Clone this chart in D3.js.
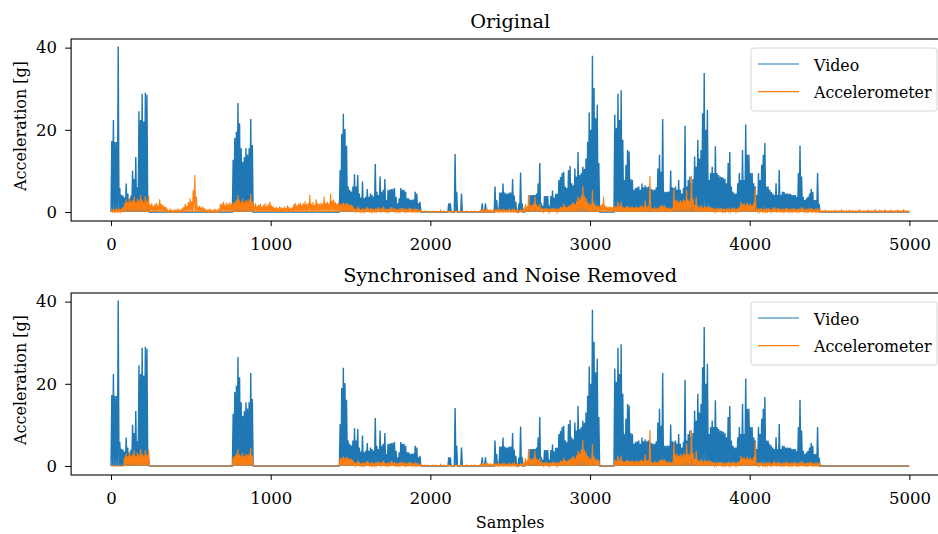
<!DOCTYPE html>
<html>
<head>
<meta charset="utf-8">
<script src="https://cdn.jsdelivr.net/npm/d3@7"></script>
<style>
body { margin: 0; background: #fff; }
text { font-family: "DejaVu Serif", serif; fill: #000; }
</style>
</head>
<body>
<div id="chart"></div>
<script>
var blue = "#1f77b4";
var orange = "#ff7f0e";

// each value = peak of one bin of 10 samples
var binSize = 10;

var video = [
  17.3,22.4,17,17,40.3,5.8,4.2,4.0,3.5,6.9,
  4.5,3,4,10,8,13.4,6,24.5,22.4,28.8,
  22,29,28.5,2,0,0,0,0,0,0,
  0,0,0,0,0,0,0,0,0,0,
  0,0,0,0,0,0,0,0,0,0,
  0,0,0,0,0,0,0,0,0,0,
  0,0,0,0,0,0,0,0,0,0,
  0,0,0,0,0,0,12.7,18,19.5,26.5,
  21.6,15.5,12.2,13.4,15.5,14,15.5,22.6,16.3,0,
  0,0,0,0,0,0,0,0,0,0,
  0,0,0,0,0,0,0,0,0,0,
  0,0,0,0,0,0,0,0,0,0,
  0,0,0,0,0,0,0,0,0,0,
  0,0,0,0,0,0,0,0,0,0,
  0,0,0,10.2,19,23.9,20.2,16.1,6.2,5.4,
  5,6.2,9.2,6.2,9,4.5,3.5,7.4,3.3,3.7,
  5.6,3.7,4.5,4.1,3.7,11.7,4.9,4.1,8.6,4.9,
  5.4,8,2.9,5.4,5.4,5.6,5.6,5.8,3.7,2.1,
  3.3,5.8,5.4,5.4,4.9,3.3,3.3,2.9,3,3,
  4.9,4.5,2.1,2.5,0,0,0,0,0,0,
  0,0,0,0,0,0,0,0,0,0,
  0,2.1,2.1,0,0,14.1,4.9,0,0,4.5,
  0,0,0,0,0,0,0,0,0,0,
  0,0,2.1,0,2.1,0,0,0,0,0,
  6.2,2.9,1,4.7,4.7,6.9,4.7,4.5,4.5,4.7,
  4.7,8,4,2.5,0,2.1,9.6,2.1,0,1,
  1,1.5,4.1,4.1,4.1,4.1,4.5,6.9,11.9,2.1,
  1.5,3.9,3.9,3.9,1.5,3.9,5.2,3.5,4.4,4.4,
  7.8,8.5,9.5,9.8,6.2,5.8,10.2,11.2,7,6.5,
  10.6,8.6,14.6,9,9.5,11,10.5,13,17.1,24.2,
  20,38,30.2,22.8,26.1,11.9,0,0,0,0,
  0,0,0,0,0,23.7,20.5,28.8,22.4,29.6,
  17.6,7.8,11.5,15.1,14.7,8,7.8,5.4,5.8,6,
  6.2,5.4,6.9,6,6.5,6,6.2,5.8,5.6,5.4,
  5.4,6,10.6,13.9,9.8,22.6,4.9,4.9,4.9,5,
  10.1,6,5.8,6.2,5.4,7.8,5.4,4.5,5.8,21,
  6.2,7.8,8.6,7,8,13.5,11,17.6,13,15.1,
  24,33.8,20,24.9,7.8,9.5,11,9.5,16,9.5,
  9,8.6,8.5,8.3,8,7,11.9,14.6,6.2,4.9,
  4.5,4.5,7,9.5,7.8,15.1,7.8,21.3,13.9,13.9,
  9.5,9.5,7,6.2,4.1,9.5,7.8,11.5,13.9,16.8,
  6.2,6.2,5.4,4.9,4.5,4.1,7,4.1,10.2,4.1,
  4.9,4.9,4.5,4.5,4.4,4.4,4.1,4.1,4.1,3.7,
  9.5,16.1,8.6,3.7,2.9,3.3,3.7,4.5,5.6,4.9,
  2.9,2.9,9.5,2,0,0,0,0,0,0,
  0,0,0,0,0,0,0,0,0,0,
  0,0,0,0,0,0,0,0,0,0,
  0,0,0,0,0,0,0,0,0,0,
  0,0,0,0,0,0,0,0,0,0,
  0,0,0,0,0,0,0,0,0,0
];

var accel = [
  0.5,0.6,0.4,0.7,0.5,0.8,0.6,1.2,2.1,3.0,
  2.4,3.4,2.6,2.9,3.8,2.5,3.2,2.8,4.1,3.0,
  2.6,3.9,2.7,4.0,1.8,2.1,1.5,1.9,2.2,1.6,
  3.1,2.0,1.7,1.4,1.2,0.5,0.4,0.6,0.3,0.5,
  0.4,0.6,0.5,0.4,0.7,1.2,2.0,1.5,2.4,3.3,
  2.6,5.4,9.0,3.7,1.3,1.5,1.1,1.3,0.9,0.5,
  0.4,0.6,0.5,0.3,0.6,0.5,0.4,0.6,1.9,2.1,
  2.5,1.8,2.2,1.9,2.4,2.0,2.3,2.5,3.0,4.1,
  2.8,2.6,3.2,2.4,2.9,2.7,3.0,4.4,2.6,1.6,
  2.1,1.5,1.8,2.0,1.3,1.7,2.1,1.5,1.9,2.5,
  1.6,1.4,1.0,1.2,0.9,1.3,1.1,0.9,1.3,1.0,
  1.6,1.2,0.9,1.1,1.9,2.1,1.7,2.0,2.3,1.8,
  2.1,2.6,1.9,2.2,4.1,2.0,2.4,1.8,3.1,2.2,
  1.9,2.3,2.0,3.7,2.2,2.5,2.1,4.4,2.8,3.0,
  2.4,2.1,2.3,2.0,2.0,2.3,1.9,2.2,2.0,1.7,
  1.8,1.5,0.8,0.6,1.3,0.7,0.5,0.9,0.6,0.8,
  1.2,0.7,0.6,0.9,0.5,0.8,0.7,1.1,0.6,0.9,
  1.3,0.7,0.5,0.8,0.6,1.2,0.7,0.9,0.6,0.5,
  0.8,0.7,1.0,0.6,0.8,0.5,0.7,0.9,0.6,0.5,
  0.7,0.6,0.5,0.4,0.2,0.1,0.2,0.1,0.2,0.1,
  0.1,0.2,0.1,0.2,0.1,0.1,0.4,0.1,0.2,0.1,
  0.1,0.2,0.1,0.2,0.1,0.1,0.2,0.1,0.1,0.2,
  0.1,0.1,0.2,0.1,0.1,0.2,0.1,0.2,0.1,0.1,
  0.2,0.4,0.6,0.3,0.5,0.7,0.4,0.5,0.3,0.6,
  0.5,0.4,0.7,0.5,0.4,0.6,0.5,0.3,0.5,0.6,
  0.4,0.5,0.7,0.4,0.5,0.3,0.5,0.4,0.6,1.9,
  1.4,4.1,1.8,1.6,2.0,3.7,1.8,1.5,1.9,0.7,
  0.9,0.6,1.0,0.8,0.6,0.9,0.7,1.0,0.8,0.6,
  0.9,1.3,1.1,2.0,1.4,1.2,1.5,1.8,2.0,2.4,
  1.9,2.6,3.7,3.2,4.0,6.3,3.9,3.4,2.5,2.0,
  1.8,5.4,2.2,1.5,1.7,1.4,1.6,1.9,3.7,1.5,
  1.3,1.2,1.4,1.1,1.3,1.5,1.2,2.5,1.4,2.3,
  1.2,1.0,1.3,1.5,1.1,1.2,1.4,1.0,1.3,1.2,
  1.1,1.4,1.6,1.2,2.8,1.4,1.5,8.8,1.0,0.8,
  1.2,0.7,0.9,1.3,1.6,1.4,1.7,1.2,0.9,1.1,
  0.8,1.0,5.5,2.8,3.0,2.4,2.9,2.6,3.1,2.8,
  5.4,3.0,2.7,8.8,3.2,1.7,3.7,1.5,1.2,1.6,
  1.0,1.4,1.3,1.1,1.5,1.2,1.0,0.8,0.6,0.9,
  0.7,1.0,0.6,0.8,0.5,0.9,0.7,0.6,0.8,1.0,
  0.7,0.6,0.9,1.2,2.5,1.9,2.1,1.7,2.3,1.8,
  2.0,1.6,2.2,5.9,0.8,0.6,0.9,0.7,0.5,0.8,
  0.6,0.9,0.7,0.5,0.8,1.2,0.6,0.7,0.9,0.5,
  0.8,0.6,0.7,1.0,0.5,0.8,0.6,0.9,0.7,0.5,
  0.8,0.6,1.1,0.7,0.5,0.8,0.6,0.7,0.9,0.6,
  0.5,0.7,0.6,0.8,0.3,0.2,0.3,0.4,0.2,0.3,
  0.2,0.3,0.2,0.4,0.2,0.3,0.2,0.5,0.3,0.2,
  0.3,0.2,0.4,0.2,0.3,0.2,0.3,0.2,0.5,0.3,
  0.2,0.3,0.2,0.3,0.4,0.2,0.3,0.2,0.5,0.3,
  0.2,0.4,0.3,0.2,0.5,0.3,0.2,0.3,0.4,0.2,
  0.3,0.2,0.4,0.3,0.2,0.3,0.5,0.2,0.3,0.2
];

// sample ranges where the accelerometer was zeroed in the second plot
var removedRanges = [[0, 80], [240, 760], [890, 1430], [3060, 3150], [4440, 5000]];

var xTicks = [0, 1000, 2000, 3000, 4000, 5000];
var yTicks = [0, 20, 40];
var titles = ["Original", "Synchronised and Noise Removed"];
var seriesNames = ["Video", "Accelerometer"];

var accelSync = accel.map(function(v, i){
    var s = i * binSize;
    var cut = removedRanges.some(function(r){ return s >= r[0] && s < r[1]; });
    return cut ? 0 : v;
});

var panels = [
    { title: titles[0], top: 39, video: video, accel: accel },
    { title: titles[1], top: 293, video: video, accel: accelSync }
];

var W = 938, H = 534;
// the right edge of the axes sits past the figure edge (cropped figure)
var left = 71.1, right = 949.3, panelH = 182;

var svg = d3.select("#chart").append("svg")
    .attr("width", W)
    .attr("height", H);

var x = d3.scaleLinear()
    .domain([-250, 5250])
    .range([left, right]);

var y = d3.scaleLinear()
    .domain([-2.2, 42.1])
    .range([panelH, 0]);

function spikePoints(vals){
    var pts = [];
    vals.forEach(function(v, i){
        pts.push([i * binSize, 0]);
        pts.push([i * binSize + binSize / 2, v]);
    });
    pts.push([vals.length * binSize, 0]);
    return pts;
}

var line = d3.line()
    .x(function(d){ return x(d[0]); })
    .y(function(d){ return y(d[1]); });

panels.forEach(function(p, k){
    var g = svg.append("g")
        .attr("transform", "translate(0," + p.top + ")");

    g.append("clipPath")
        .attr("id", "clip" + k)
        .append("rect")
        .attr("x", left)
        .attr("y", 0)
        .attr("width", right - left)
        .attr("height", panelH);

    var plot = g.append("g").attr("clip-path", "url(#clip" + k + ")");

    plot.append("path")
        .attr("d", line(spikePoints(p.video)))
        .attr("fill", "none")
        .attr("stroke", blue)
        .attr("stroke-width", 1.4);

    plot.append("path")
        .attr("d", line(spikePoints(p.accel)))
        .attr("fill", "none")
        .attr("stroke", orange)
        .attr("stroke-width", 1.1);

    // axes
    var xa = g.append("g")
        .attr("transform", "translate(0," + panelH + ")")
        .call(d3.axisBottom(x).tickValues(xTicks).tickSize(5).tickSizeOuter(0).tickFormat(d3.format("d")));
    xa.select(".domain").remove();
    xa.selectAll("text")
        .attr("y", 29)
        .attr("dy", 0)
        .attr("font-size", "16.5px")
        .attr("font-family", "DejaVu Serif");
    xa.selectAll("line").attr("stroke", "#000");

    var ya = g.append("g")
        .attr("transform", "translate(" + left + ",0)")
        .call(d3.axisLeft(y).tickValues(yTicks).tickSize(6).tickPadding(8).tickSizeOuter(0));
    ya.select(".domain").remove();
    ya.selectAll("text")
        .attr("font-size", "16.5px")
        .attr("font-family", "DejaVu Serif");
    ya.selectAll("line").attr("stroke", "#000");

    g.append("rect")
        .attr("x", left)
        .attr("y", 0)
        .attr("width", right - left)
        .attr("height", panelH)
        .attr("fill", "none")
        .attr("stroke", "#000")
        .attr("stroke-width", 1.1);

    g.append("text")
        .attr("x", (left + right) / 2)
        .attr("y", -11)
        .attr("text-anchor", "middle")
        .attr("font-size", "19.3px")
        .text(p.title);

    g.append("text")
        .attr("transform", "translate(26," + (panelH / 2 - 4) + ") rotate(-90)")
        .attr("text-anchor", "middle")
        .attr("font-size", "16px")
        .text("Acceleration [g]");

    // legend
    var leg = g.append("g").attr("transform", "translate(751,9)");
    leg.append("rect")
        .attr("width", 186)
        .attr("height", 63)
        .attr("rx", 3)
        .attr("fill", "#fff")
        .attr("fill-opacity", 0.8)
        .attr("stroke", "#d6d6d6")
        .attr("stroke-width", 1);

    [blue, orange].forEach(function(c, j){
        leg.append("line")
            .attr("x1", 7)
            .attr("x2", 48)
            .attr("y1", 16 + j * 27.7)
            .attr("y2", 16 + j * 27.7)
            .attr("stroke", c)
            .attr("stroke-width", 1.2);
        leg.append("text")
            .attr("x", 63)
            .attr("y", 22.5 + j * 27.7)
            .attr("font-size", "15.8px")
            .text(seriesNames[j]);
    });
});

svg.append("text")
    .attr("x", (left + right) / 2)
    .attr("y", 528)
    .attr("text-anchor", "middle")
    .attr("font-size", "16px")
    .text("Samples");
</script>
</body>
</html>
